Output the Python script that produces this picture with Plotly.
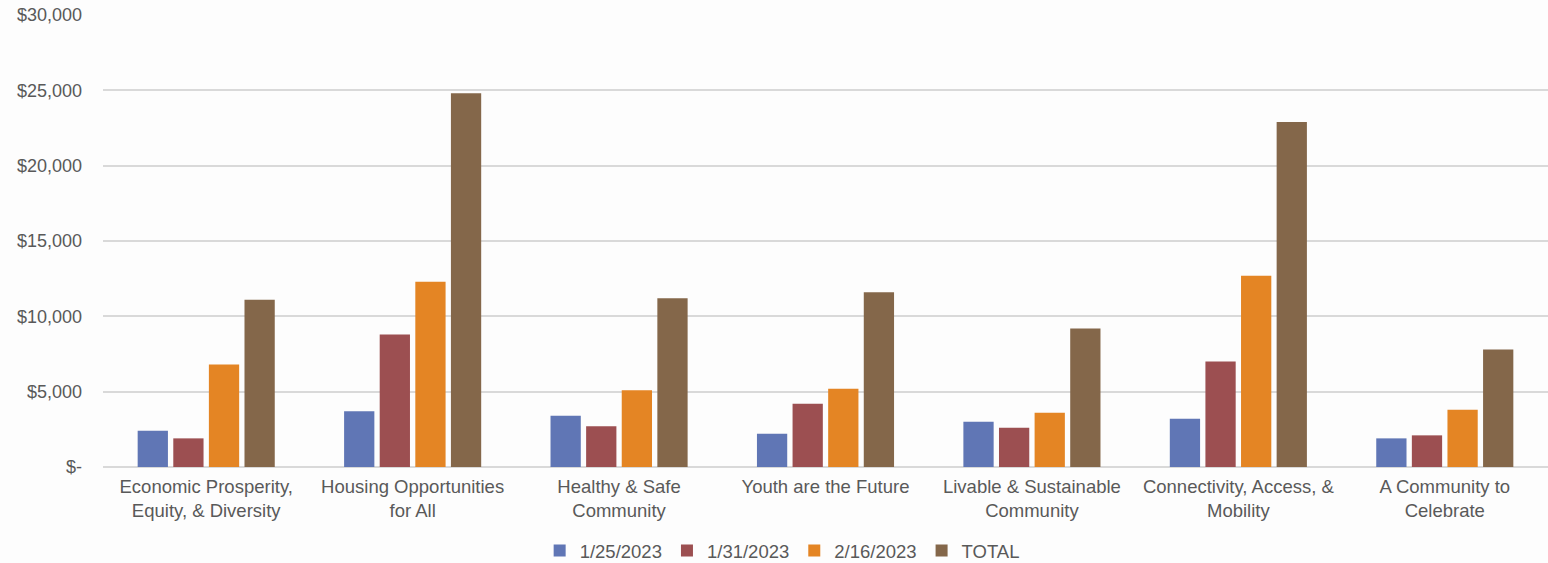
import plotly.graph_objects as go

categories = ["Economic Prosperity,<br>Equity, & Diversity", "Housing Opportunities<br>for All",
              "Healthy & Safe<br>Community", "Youth are the Future",
              "Livable & Sustainable<br>Community", "Connectivity, Access, &<br>Mobility",
              "A Community to<br>Celebrate"]
s_0125 = [2400, 3700, 3400, 2200, 3000, 3200, 1900]
s_0131 = [1900, 8800, 2700, 4200, 2600, 7000, 2100]
s_0216 = [6800, 12300, 5100, 5200, 3600, 12700, 3800]
s_total = [11100, 24800, 11200, 11600, 9200, 22900, 7800]
series_names = ["1/25/2023", "1/31/2023", "2/16/2023", "TOTAL"]
colors = ["#6076B5", "#9C4F51", "#E48524", "#84674A"]
tick_vals = [0, 5000, 10000, 15000, 20000, 25000, 30000]
tick_text = ["$-", "$5,000", "$10,000", "$15,000", "$20,000", "$25,000", "$30,000"]

fig = go.Figure()
for name, vals, c in zip(series_names, [s_0125, s_0131, s_0216, s_total], colors):
    fig.add_trace(go.Bar(x=categories, y=vals, name=name, marker_color=c,
                         marker_line_width=0))

fig.update_layout(
    width=1548, height=563,
    margin=dict(l=103, r=0, t=15, b=96, autoexpand=False),
    paper_bgcolor="#fdfdfd", plot_bgcolor="rgba(0,0,0,0)",
    font=dict(family="Liberation Sans, Arial, sans-serif", size=18, color="#595959"),
    barmode="group", bargap=0.31, bargroupgap=0.15,
    legend=dict(orientation="h", x=0.47, xanchor="center", y=12 / 563, yref="container",
                yanchor="middle", font=dict(size=18.5), itemwidth=30, traceorder="normal"),
    xaxis=dict(showgrid=False, showline=False, ticks="", tickfont=dict(size=18.5),
               automargin=False, ticklabelstandoff=6),
    yaxis=dict(range=[0, 30000], tickvals=tick_vals, ticktext=tick_text, automargin=False,
               showgrid=True, gridcolor="#d9d9d9", gridwidth=1.5, zeroline=True,
               zerolinecolor="#d9d9d9", zerolinewidth=1.5, ticks="", ticklabelstandoff=20,
               tickfont=dict(size=18)),
)
fig.write_html("out.html", config={"displayModeBar": False},
               post_script="document.body.style.margin='0';document.body.style.overflow='hidden';")
